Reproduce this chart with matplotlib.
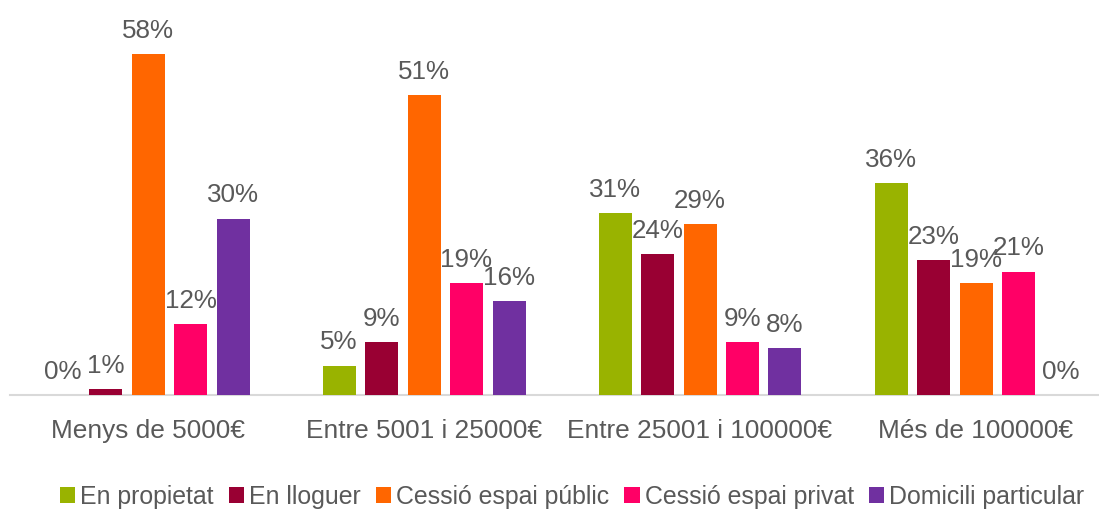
import matplotlib
matplotlib.use("Agg")
import matplotlib.pyplot as plt
import numpy as np

categories = ["Menys de 5000€", "Entre 5001 i 25000€", "Entre 25001 i 100000€", "Més de 100000€"]
series_names = ["En propietat", "En lloguer", "Cessió espai públic", "Cessió espai privat", "Domicili particular"]
en_propietat = [0, 5, 31, 36]
en_lloguer = [1, 9, 24, 23]
cessio_publica = [58, 51, 29, 19]
cessio_privada = [12, 19, 9, 21]
domicili = [30, 16, 8, 0]
series_values = [en_propietat, en_lloguer, cessio_publica, cessio_privada, domicili]
colors = ["#99B300", "#990033", "#FF6600", "#FF0066", "#7030A0"]

plt.rcParams['font.family'] = ['Liberation Sans', 'DejaVu Sans']
text_color = "#595959"

fig = plt.figure(figsize=(10.99, 5.09), dpi=100)
W, H = 1099, 509
ax = fig.add_axes([10 / W, 1 - 395 / H, (1099 - 10) / W, 395 / H])

x = np.arange(len(categories))
step = 42.5 / 276
width = 33 / 276
for i, (name, vals, c) in enumerate(zip(series_names, series_values, colors)):
    pos = x + (i - 2) * step
    ax.bar(pos, vals, width=width, color=c, label=name, zorder=2)
    for px, v in zip(pos, vals):
        ax.annotate(f"{v}%", (px, v), xytext=(0, 8), textcoords="offset points",
                    ha="center", va="bottom", fontsize=18.7, color=text_color)

ax.set_xlim((10 - 148) / 276, (1099 - 148) / 276)
ax.set_ylim(0, 395 / 5.88)
ax.set_xticks(x)
ax.set_xticklabels(categories, fontsize=18.9, color=text_color)
ax.tick_params(axis='x', length=0, pad=17)
ax.set_yticks([])
for s in ["top", "right", "left"]:
    ax.spines[s].set_visible(False)
ax.spines["bottom"].set_color("#D9D9D9")
ax.spines["bottom"].set_linewidth(1.5)
ax.spines["bottom"].set_zorder(1)

leg = fig.legend(loc="center", bbox_to_anchor=(572 / W, 1 - 497 / H), ncol=5, frameon=False,
                 fontsize=17.9, handlelength=0.62, handleheight=0.62, handletextpad=0.2,
                 columnspacing=0.6, borderpad=0, borderaxespad=0)
for t in leg.get_texts():
    t.set_color(text_color)

fig.savefig("out.png", dpi=100)
